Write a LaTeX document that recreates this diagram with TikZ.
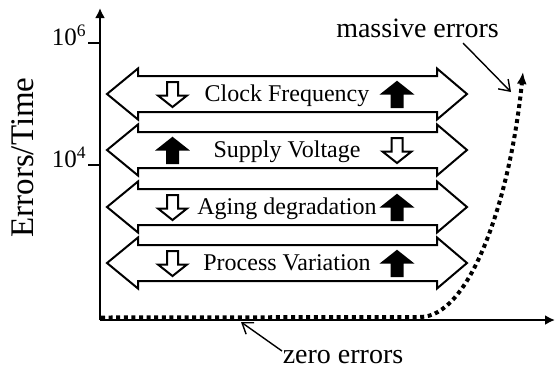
\documentclass[tikz,border=0pt]{standalone}
\usepackage{fontspec}
\setmainfont{Liberation Serif}
\usetikzlibrary{arrows.meta}
\begin{document}
\begin{tikzpicture}[x=0.5pt,y=-0.5pt,
  axis/.style={line width=1pt,-{Latex[length=5pt,width=5pt]}},
  band/.style={draw,line width=1pt,fill=white,line join=miter},
  rowtext/.style={font=\fontsize{12}{14}\selectfont,inner sep=0pt,anchor=base},
  bigtext/.style={font=\fontsize{14}{16}\selectfont,inner sep=0pt,anchor=base},
  ticklbl/.style={font=\fontsize{12.5}{14}\selectfont,inner sep=0pt,anchor=base east},
  pointer/.style={line width=0.7pt,-{Straight Barb[length=5pt,width=7pt]}},
  dotcurve/.style={line width=2pt,dash pattern=on 2pt off 1.8pt,-{Latex[length=6pt,width=5pt]}},
  dnarr/.pic={\draw[line width=1pt,fill=white,line join=miter]
     (-5.5,-12.5) -- (5.5,-12.5) -- (5.5,1) -- (14.5,1) -- (0,12.5) -- (-14.5,1) -- (-5.5,1) -- cycle;},
  uparr/.pic={\draw[line width=1pt,fill=black,line join=miter]
     (-5.5,12.5) -- (5.5,12.5) -- (5.5,-1) -- (14.5,-1) -- (0,-12.5) -- (-14.5,-1) -- (-5.5,-1) -- cycle;}
]
\useasboundingbox (0,0) rectangle (555,366);

% axes
\coordinate (O) at (100,320);
\coordinate (ytop) at (100,8);
\coordinate (xend) at (555,320);
\draw[axis] (O) -- (ytop);
\draw[axis] (O) -- (xend);

% ticks and labels
\coordinate (t6a) at (88,43);  \coordinate (t6b) at (100,43);
\coordinate (t4a) at (88,165); \coordinate (t4b) at (100,165);
\draw[line width=1pt] (t6a) -- (t6b);
\draw[line width=1pt] (t4a) -- (t4b);
\node[ticklbl] (l6) at (87,45) {10\textsuperscript{6}};
\node[ticklbl] (l4) at (87,167) {10\textsuperscript{4}};

\node[font=\fontsize{16.5}{18}\selectfont,inner sep=0pt,rotate=90,anchor=base] (ylab) at (33,157.5) {Errors/Time};

% bands
\foreach \c/\t/\l/\r/\n in {94/Clock Frequency/dnarr/uparr/1,
                             150/Supply Voltage/uparr/dnarr/2,
                             207/Aging degradation/dnarr/uparr/3,
                             263/Process Variation/dnarr/uparr/4}{
  \draw[band] (107,\c) -- (138,\c-25.5) -- (138,\c-18) -- (437,\c-18) -- (437,\c-25.5)
     -- (467,\c) -- (437,\c+25.5) -- (437,\c+18) -- (138,\c+18) -- (138,\c+25.5) -- cycle;
  \node[rowtext] (t\n) at (287,\c+7.5) {\t};
  \pic at (172.5,\c+0.5) {\l};
  \pic at (397,\c+0.5) {\r};
}

% dotted curve
\coordinate (cs) at (101,317.5);
\coordinate (cm) at (420,317);
\coordinate (ce) at (523,72);
\draw[dotcurve] (cs) -- (cm) .. controls (470,317) and (510,200) .. (ce);

% annotations
\node[bigtext] (me) at (417.5,37) {massive errors};
\node[bigtext] (ze) at (343,363) {zero errors};
\coordinate (mtail) at (463,43);
\coordinate (mtip) at (511,92);
\coordinate (ztail) at (282,351);
\coordinate (ztip) at (241,322);
\draw[pointer] (mtail) -- (mtip);
\draw[pointer] (ztail) -- (ztip);
\end{tikzpicture}
\end{document}
